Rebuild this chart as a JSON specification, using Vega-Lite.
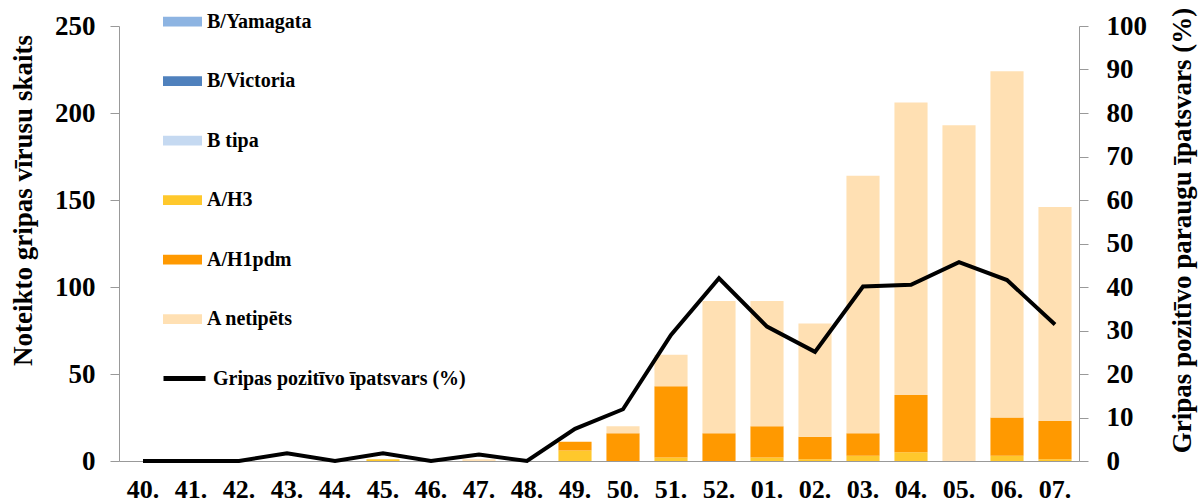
{
  "$schema": "https://vega.github.io/schema/vega-lite/v6.json",
  "width": 960,
  "height": 435,
  "autosize": {"type": "none"},
  "padding": {"left": 119, "top": 26, "right": 119, "bottom": 43},
  "background": "white",
  "config": {"view": {"stroke": null}, "font": "Liberation Serif", "axis": {"grid": false}},
  "datasets": {
    "counts": [
      {"week": "45.", "type": "A/H3", "n": 1},
      {"week": "47.", "type": "A netipēts", "n": 1},
      {"week": "49.", "type": "A/H3", "n": 6},
      {"week": "49.", "type": "A/H1pdm", "n": 5},
      {"week": "50.", "type": "A/H1pdm", "n": 16},
      {"week": "50.", "type": "A netipēts", "n": 4},
      {"week": "51.", "type": "A/H3", "n": 2},
      {"week": "51.", "type": "A/H1pdm", "n": 41},
      {"week": "51.", "type": "A netipēts", "n": 18},
      {"week": "52.", "type": "A/H1pdm", "n": 16},
      {"week": "52.", "type": "A netipēts", "n": 76},
      {"week": "01.", "type": "A/H3", "n": 2},
      {"week": "01.", "type": "A/H1pdm", "n": 18},
      {"week": "01.", "type": "A netipēts", "n": 72},
      {"week": "02.", "type": "A/H3", "n": 1},
      {"week": "02.", "type": "A/H1pdm", "n": 13},
      {"week": "02.", "type": "A netipēts", "n": 65},
      {"week": "03.", "type": "A/H3", "n": 3},
      {"week": "03.", "type": "A/H1pdm", "n": 13},
      {"week": "03.", "type": "A netipēts", "n": 148},
      {"week": "04.", "type": "A/H3", "n": 5},
      {"week": "04.", "type": "A/H1pdm", "n": 33},
      {"week": "04.", "type": "A netipēts", "n": 168},
      {"week": "05.", "type": "A netipēts", "n": 193},
      {"week": "06.", "type": "A/H3", "n": 3},
      {"week": "06.", "type": "A/H1pdm", "n": 22},
      {"week": "06.", "type": "A netipēts", "n": 199},
      {"week": "07.", "type": "A/H3", "n": 1},
      {"week": "07.", "type": "A/H1pdm", "n": 22},
      {"week": "07.", "type": "A netipēts", "n": 123}
    ],
    "pct": [
      {"week": "40.", "p": 0},
      {"week": "41.", "p": 0},
      {"week": "42.", "p": 0},
      {"week": "43.", "p": 1.8},
      {"week": "44.", "p": 0},
      {"week": "45.", "p": 1.8},
      {"week": "46.", "p": 0},
      {"week": "47.", "p": 1.5},
      {"week": "48.", "p": 0},
      {"week": "49.", "p": 7.4},
      {"week": "50.", "p": 11.9},
      {"week": "51.", "p": 29.0},
      {"week": "52.", "p": 42.0},
      {"week": "01.", "p": 30.9},
      {"week": "02.", "p": 25.1},
      {"week": "03.", "p": 40.1},
      {"week": "04.", "p": 40.5},
      {"week": "05.", "p": 45.7},
      {"week": "06.", "p": 41.6},
      {"week": "07.", "p": 31.4}
    ]
  },
  "encoding": {
    "x": {
      "field": "week",
      "type": "nominal",
      "sort": ["40.", "41.", "42.", "43.", "44.", "45.", "46.", "47.", "48.", "49.", "50.", "51.", "52.", "01.", "02.", "03.", "04.", "05.", "06.", "07."],
      "scale": {"paddingInner": 0.31, "paddingOuter": 0.155},
      "axis": {
        "title": null,
        "labelAngle": 0,
        "ticks": false,
        "labelPadding": 15,
        "labelFont": "Liberation Serif",
        "labelFontSize": 26,
        "labelFontWeight": "bold",
        "labelColor": "black",
        "domainColor": "#999999"
      }
    }
  },
  "layer": [
    {
      "data": {"name": "counts"},
      "transform": [
        {"calculate": "indexof(['A/H3','A/H1pdm','A netipēts','B tipa','B/Victoria','B/Yamagata'], datum.type)", "as": "stackIdx"}
      ],
      "mark": {"type": "bar"},
      "encoding": {
        "y": {
          "field": "n",
          "type": "quantitative",
          "stack": "zero",
          "scale": {"domain": [0, 250], "nice": false},
          "axis": {
            "values": [0, 50, 100, 150, 200, 250],
            "title": "Noteikto gripas vīrusu skaits",
            "titleFont": "Liberation Serif",
            "titleFontSize": 27,
            "titleFontWeight": "bold",
            "titleColor": "black",
            "titleAngle": -90,
            "titleAlign": "center",
            "titleBaseline": "middle",
            "titleX": -96,
            "titleY": 174,
            "labelFont": "Liberation Serif",
            "labelFontSize": 27,
            "labelFontWeight": "bold",
            "labelColor": "black",
            "labelPadding": 15,
            "tickSize": 9,
            "tickColor": "#999999",
            "domainColor": "#999999"
          }
        },
        "color": {
          "field": "type",
          "type": "nominal",
          "scale": {
            "domain": ["B/Yamagata", "B/Victoria", "B tipa", "A/H3", "A/H1pdm", "A netipēts"],
            "range": ["#8DB4E2", "#4F81BD", "#C5D9F1", "#FFC82C", "#FF9900", "#FFE0B3"]
          },
          "legend": {
            "orient": "none",
            "legendX": 44,
            "legendY": -24,
            "title": null,
            "padding": 0,
            "symbolType": "M-1,-0.25H1V0.25H-1Z",
            "symbolSize": 1521,
            "symbolStrokeWidth": 0,
            "labelFont": "Liberation Serif",
            "labelFontSize": 20,
            "labelFontWeight": "bold",
            "labelColor": "black",
            "labelOffset": 5,
            "labelLimit": 0,
            "rowPadding": 29.5
          }
        },
        "order": {"field": "stackIdx", "type": "quantitative"}
      }
    },
    {
      "data": {"name": "pct"},
      "mark": {"type": "line", "strokeWidth": 4, "strokeJoin": "miter"},
      "encoding": {
        "y": {
          "field": "p",
          "type": "quantitative",
          "scale": {"domain": [0, 100], "nice": false},
          "axis": {
            "orient": "right",
            "values": [0, 10, 20, 30, 40, 50, 60, 70, 80, 90, 100],
            "title": "Gripas pozitīvo paraugu īpatsvars (%)",
            "titleFont": "Liberation Serif",
            "titleFontSize": 27,
            "titleFontWeight": "bold",
            "titleColor": "black",
            "titleAngle": -90,
            "titleAlign": "center",
            "titleBaseline": "middle",
            "titleX": 103,
            "titleY": 204,
            "labelFont": "Liberation Serif",
            "labelFontSize": 27,
            "labelFontWeight": "bold",
            "labelColor": "black",
            "labelPadding": 18,
            "tickSize": 9,
            "tickColor": "#999999",
            "domainColor": "#999999"
          }
        },
        "stroke": {
          "datum": "Gripas pozitīvo īpatsvars (%)",
          "type": "nominal",
          "scale": {"range": ["black"]},
          "legend": {
            "orient": "none",
            "legendX": 42,
            "legendY": 329,
            "title": null,
            "padding": 0,
            "symbolType": "stroke",
            "symbolSize": 1764,
            "symbolStrokeWidth": 5,
            "labelFont": "Liberation Serif",
            "labelFontSize": 20,
            "labelFontWeight": "bold",
            "labelColor": "black",
            "labelOffset": 5,
            "labelLimit": 0
          }
        }
      }
    }
  ],
  "resolve": {"scale": {"y": "independent"}}
}
